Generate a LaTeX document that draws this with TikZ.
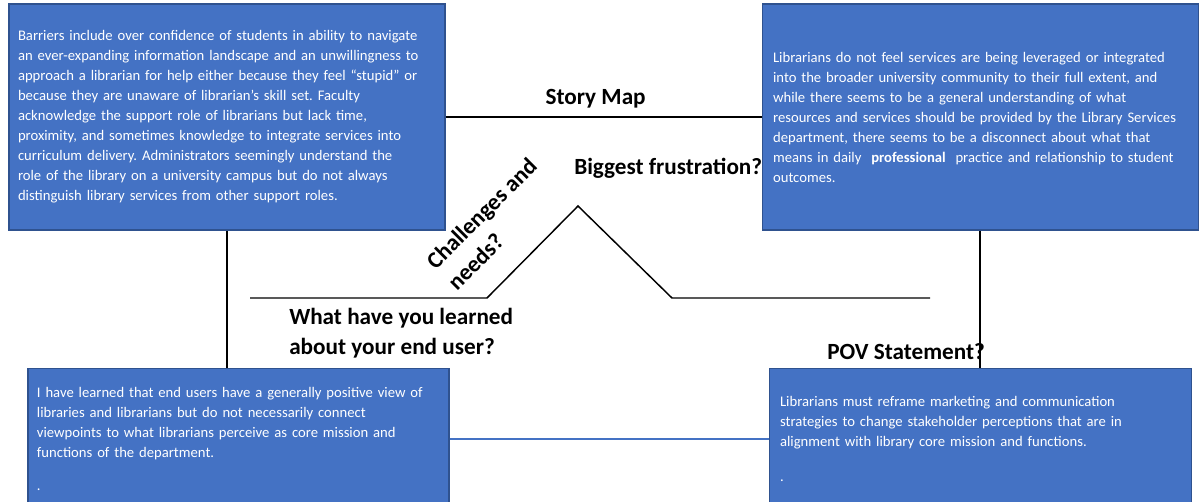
\documentclass[tikz,border=0pt]{standalone}
\usepackage{fontspec}
\setmainfont{Carlito}
\usepackage{xcolor}
\usepackage{tikz}
\usetikzlibrary{positioning}
\frenchspacing
\definecolor{boxblue}{HTML}{4472C4}
\definecolor{boxedge}{HTML}{2F528F}
\tikzstyle{note} = [rectangle, draw=boxedge, fill=boxblue, line width=0.8pt, text=white, align=left, inner xsep=6.75pt, font=\fontsize{11}{15}\selectfont]
\tikzstyle{heading} = [font=\fontsize{17.4}{22.5}\selectfont\bfseries, align=left, inner sep=0pt]
\tikzstyle{link} = [line width=1.1pt]
\tikzstyle{bluelink} = [draw=boxblue, line width=1.1pt]

\begin{document}
\begin{tikzpicture}[x=0.75pt, y=-0.75pt]
    \useasboundingbox (0,0) rectangle (1199,501);

    % Four quadrant boxes
    \node[note, text width=313.5pt, minimum height=169.5pt] (barriers) at (227,117) {Barriers include over confidence of students in ability to navigate\\an ever-expanding information landscape and an unwillingness to\\approach a librarian for help either because they feel “stupid” or\\because they are unaware of librarian’s skill set. Faculty\\acknowledge the support role of librarians but lack time,\\proximity, and sometimes knowledge to integrate services into\\curriculum delivery. Administrators seemingly understand the\\role of the library on a university campus but do not always\\distinguish library services from other support roles.};
    \node[note, text width=310.5pt, inner xsep=8.25pt, minimum height=169.5pt, right=237pt of barriers] (librarians) {Librarians do not feel services are being leveraged or integrated\\into the broader university community to their full extent, and\\while there seems to be a general understanding of what\\resources and services should be provided by the Library Services\\department, there seems to be a disconnect about what that\\means in daily \ \textbf{professional} \ practice and relationship to student\\outcomes.};
    \node[note, text width=302.25pt, minimum height=106.5pt, below=102.75pt of barriers, xshift=8.6pt] (learned) {I have learned that end users have a generally positive view of\\libraries and librarians but do not necessarily connect\\viewpoints to what librarians perceive as core mission and\\functions of the department.\\[10pt].};
    \node[note, text width=300pt, inner xsep=8.25pt, minimum height=106.5pt, below=102.75pt of librarians] (pov) {Librarians must reframe marketing and communication\\strategies to change stakeholder perceptions that are in\\alignment with library core mission and functions.\\[11pt].};

    % Connectors between the boxes
    \draw[link] (barriers.east) -- node[heading, above=6pt, pos=0.475] (storymap) {Story Map} (librarians.west);
    \draw[link] (barriers.south) -- (barriers.south |- learned.north);
    \draw[link] (librarians.south) -- (pov.north);
    \draw[bluelink] (learned.east) -- (pov.west);

    % Story arc
    \coordinate (arcstart) at (250,298);
    \coordinate (risestart) at (487,298);
    \coordinate (peak) at (578,206);
    \coordinate (fallend) at (672,298);
    \coordinate (arcend) at (930,298);
    \draw[link] (arcstart) -- (risestart) -- (peak) -- (fallend) -- (arcend);

    % Questions
    \node[heading, anchor=west] (frustration) at (574,168) {Biggest frustration?};
    \node[heading, rotate=45] (challenges) at (492,224) {Challenges and\\needs?};
    \node[heading, anchor=west] (enduser) at (289,333) {What have you learned\\about your end user?};
    \node[heading, anchor=west] (povq) at (827,352) {POV Statement?};

\end{tikzpicture}
\end{document}
